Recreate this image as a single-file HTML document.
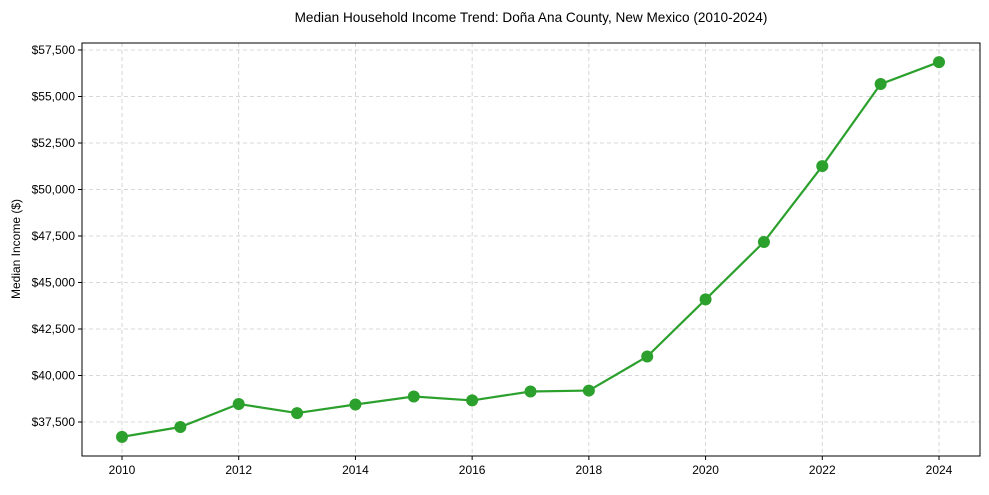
<!DOCTYPE html>
<html><head><meta charset="utf-8"><style>
body{margin:0;background:#fff;}
svg text{font-family:"Liberation Sans Narrow","Liberation Sans",sans-serif;fill:#000;}
</style></head><body>
<svg id="chart" width="989" height="490" xmlns="http://www.w3.org/2000/svg">
<text x="531" y="22" text-anchor="middle" font-size="13.6">Median Household Income Trend: Doña Ana County, New Mexico (2010-2024)</text>
<text transform="translate(20,249) rotate(-90)" text-anchor="middle" font-size="12">Median Income ($)</text>
<g id="grid"></g><g id="axes"></g><g id="series"></g>
</svg>
<script>
const years=[2010,2011,2012,2013,2014,2015,2016,2017,2018,2019,2020,2021,2022,2023,2024];
const income=[36700,37230,38470,37980,38440,38870,38660,39140,39190,41020,44090,47180,51260,55670,56850];
const yTicks=[37500,40000,42500,45000,47500,50000,52500,55000,57500];
const xTicks=[2010,2012,2014,2016,2018,2020,2022,2024];
const L=82,R=980,T=43,B=456;
const X=v=>122+(v-2010)*(939-122)/14;
const Y=v=>422-(v-37500)*(422-50)/20000;
const NS='http://www.w3.org/2000/svg';
function mk(tag,attrs,parent){const e=document.createElementNS(NS,tag);for(const k in attrs)e.setAttribute(k,attrs[k]);parent.appendChild(e);return e;}
const grid=document.getElementById('grid'),axes=document.getElementById('axes'),series=document.getElementById('series');
yTicks.forEach(v=>{
 const g=mk('line',{x1:L,x2:R,y1:Y(v),y2:Y(v),stroke:'#ccc','stroke-dasharray':'4,3','stroke-width':0.8},grid);
 
 
 mk('line',{x1:L-4,x2:L,y1:Y(v),y2:Y(v),stroke:'#000'},axes);
 const t=mk('text',{x:L-7,y:Y(v)+4,'text-anchor':'end','font-size':'12'},axes);
 t.textContent='$'+v.toLocaleString('en-US');
 
 
});
xTicks.forEach(v=>{
 const g=mk('line',{x1:X(v),x2:X(v),y1:T,y2:B,stroke:'#ccc','stroke-dasharray':'4,3','stroke-width':0.8},grid);
 
 
 mk('line',{x1:X(v),x2:X(v),y1:B,y2:B+4,stroke:'#000'},axes);
 const t=mk('text',{x:X(v),y:B+18,'text-anchor':'middle','font-size':'12'},axes);
 t.textContent=v;
 
 
});
const frame=mk('rect',{x:L,y:T,width:R-L,height:B-T,fill:'none',stroke:'#000','stroke-width':1},axes);


const line=mk('polyline',{points:years.map((y,i)=>X(y)+','+Y(income[i])).join(' '),fill:'none',stroke:'#2ca02c','stroke-width':2.2},series);


years.forEach((y,i)=>{
 const c=mk('circle',{cx:X(y),cy:Y(income[i]),r:6,fill:'#2ca02c'},series);
 
 
});
</script>
</body></html>
